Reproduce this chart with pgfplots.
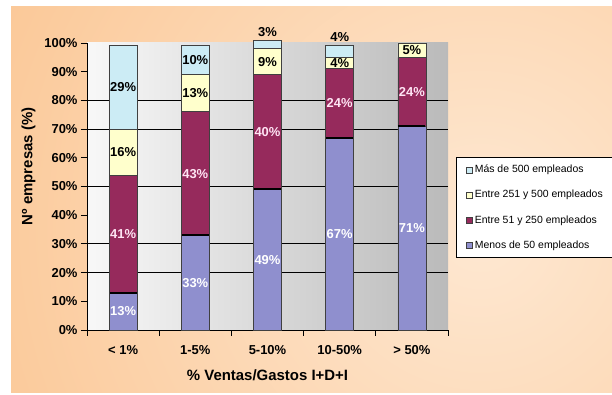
\documentclass[border=0pt]{standalone}
\usepackage{fontspec}
\setmainfont{Liberation Sans}
\usepackage{pgfplots}
\usepackage{pgfplotstable}
\pgfplotsset{compat=1.18}

\definecolor{fondo}{RGB}{251,201,153}
\definecolor{fondoclaro}{RGB}{254,232,210}
\definecolor{plotL}{RGB}{248,248,248}
\definecolor{plotR}{RGB}{186,186,186}
\definecolor{lavanda}{RGB}{143,143,206}
\definecolor{granate}{RGB}{150,42,92}
\definecolor{crema}{RGB}{255,255,204}
\definecolor{celeste}{RGB}{204,236,245}
\definecolor{borde}{RGB}{64,64,64}
\definecolor{rosado}{RGB}{255,228,244}

% Share of firms (%) by size, for each band of R&D spending over sales
\pgfplotstableread{
x menos entre51 entre251 mas
0 13 41 16 29
1 33 43 13 10
2 49 40 9 3
3 67 24 4 4
4 71 24 5 0
}\datos

\pgfplotsset{
  % value label in the middle of its own segment
  centrada/.style={
    visualization depends on=rawy\as\segval,
    nodes near coords={\pgfmathprintnumber{\segval}\%},
    every node near coord/.append style={anchor=center,
      font=\bfseries\fontsize{13}{13}\selectfont},
  },
}

\begin{document}
\begin{tikzpicture}
\useasboundingbox (0,0) rectangle (612bp,395bp);
\fill[white] (0,0) rectangle (612bp,395bp);
\begin{scope}
  \clip (11bp,2bp) rectangle (612bp,388bp);
  \fill[fondo] (11bp,2bp) rectangle (612bp,388bp);
  \shade[inner color=fondoclaro, outer color=fondo] (480bp,165bp) circle (520bp);
\end{scope}

\begin{axis}[
  at={(87bp,65bp)}, anchor=south west,
  scale only axis, width=361bp, height=287bp,
  xmin=-0.5, xmax=4.5, ymin=0, ymax=100,
  ybar stacked, bar width=28bp,
  clip=false,
  axis background/.style={left color=plotL, right color=plotR},
  axis x line*=bottom, axis y line*=left,
  axis line style={black, line width=0.9bp},
  tick align=outside,
  tick style={black, line width=0.9bp},
  major tick length=6bp,
  /pgf/number format/assume math mode=true,
  ticklabel style={font=\bfseries\fontsize{13}{13}\selectfont},
  ytick={0,10,...,100},
  yticklabel={\pgfmathprintnumber{\tick}\%},
  extra y ticks={20,30,50,70,80},
  extra y tick labels={},
  extra y tick style={grid=major, major grid style={black, line width=0.9bp}},
  xtick={-0.5,0.5,...,4.5}, xticklabels={},
  extra x ticks={0,1,2,3,4},
  extra x tick labels={< 1\%, 1-5\%, 5-10\%, 10-50\%, > 50\%},
  extra x tick style={major tick length=0pt, tick label style={yshift=-12bp}},
  xlabel={\% Ventas/Gastos I+D+I},
  ylabel={Nº empresas (\%)},
  label style={font=\bfseries\fontsize{15}{18}\selectfont},
  xlabel style={at={(axis description cs:0.5,-0.157)}, anchor=center},
  ylabel style={at={(axis description cs:-0.162,0.57)}, anchor=center},
  legend style={at={(1.022,0.603)}, anchor=north west, draw=black,
    line width=0.6bp, fill=white, font=\fontsize{10.5}{12}\selectfont,
    inner xsep=10bp, inner ysep=6bp, row sep=12bp},
  legend cell align=left,
  reverse legend,
  legend image code/.code={\draw[#1, draw=borde, line width=0.6bp] (0bp,-3bp) rectangle (6bp,3bp);},
]
\addplot[fill=lavanda, draw=borde, line width=0.8bp, centrada,
  every node near coord/.append style={text=white}]
  table[x=x, y=menos]{\datos};
\addplot[fill=granate, draw=borde, line width=0.8bp, centrada,
  every node near coord/.append style={text=rosado}]
  table[x=x, y=entre51]{\datos};
\addplot[fill=crema, draw=borde, line width=0.8bp, centrada,
  every node near coord/.append style={text=black}]
  table[x=x, y=entre251]{\datos};
\addplot[fill=celeste, draw=borde, line width=0.8bp, centrada,
  % small top segments carry their label just above the column
  every node near coord/.append style={text=black,
    yshift={ifthenelse(\segval<5, 1.435*\segval+8.5, 0)*1bp}}]
  table[x=x, y=mas, skip coords between index={4}{5}]{\datos};
\legend{Menos de 50 empleados, Entre 51 y 250 empleados,
  Entre 251 y 500 empleados, Más de 500 empleados}
\end{axis}

% dark rule where the smallest firms meet the next size band
\begin{axis}[
  at={(87bp,65bp)}, anchor=south west,
  scale only axis, width=361bp, height=287bp,
  xmin=-0.5, xmax=4.5, ymin=0, ymax=100,
  hide axis, clip=false]
\addplot[only marks, mark=-, mark size=13.5bp, mark options={black, line width=1.8bp}]
  table[x=x, y=menos]{\datos};
\end{axis}
\end{tikzpicture}
\end{document}
